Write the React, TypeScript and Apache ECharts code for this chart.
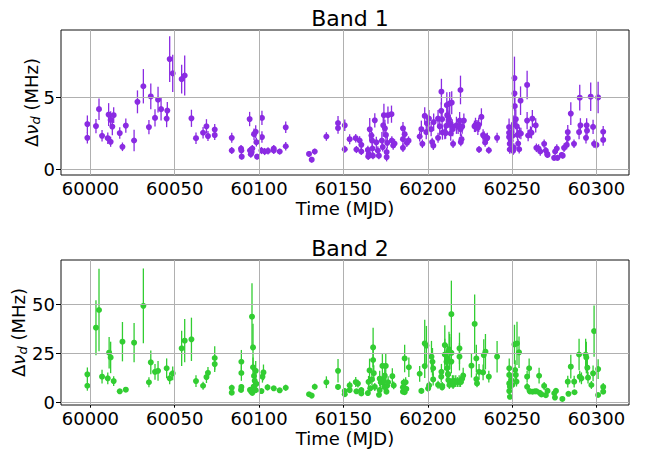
import React, { useEffect, useRef } from "react";
import * as echarts from "echarts";

// ---- Band 1 scintillation bandwidth (MHz) ----
const band1Mjd = [
  59998.2, 59998.2, 60003.3, 60005.1, 60006.9, 60010.3, 60010.8, 60012.0, 60012.0, 60013.0,
  60013.8, 60017.4, 60019.0, 60021.0, 60025.9, 60027.9, 60031.4, 60034.7, 60035.8, 60038.3,
  60040.1, 60041.9, 60045.2, 60045.6, 60047.0, 60048.8, 60054.1, 60055.9, 60059.9, 60062.6,
  60066.8, 60068.8, 60069.7, 60073.7, 60073.7, 60083.8, 60083.8, 60089.3, 60089.5, 60089.7,
  60094.4, 60094.6, 60095.1, 60095.6, 60096.0, 60097.0, 60098.0, 60098.4, 60098.8, 60101.7,
  60101.7, 60101.4, 60103.3, 60105.3, 60108.7, 60108.7, 60112.2, 60115.8, 60115.8, 60129.6,
  60131.2, 60133.0, 60139.9, 60146.8, 60146.8, 60150.8, 60150.8, 60153.7, 60157.3, 60157.7,
  60159.6, 60160.6, 60160.6, 60164.5, 60164.7, 60165.0, 60165.6, 60166.6, 60167.0, 60167.2,
  60167.5, 60168.6, 60169.5, 60170.4, 60171.0, 60172.8, 60173.3, 60173.6, 60174.0, 60174.6,
  60175.2, 60175.6, 60175.6, 60176.0, 60176.4, 60178.5, 60178.7, 60179.5, 60180.3, 60185.3,
  60185.3, 60185.3, 60186.3, 60187.6, 60188.6, 60195.2, 60196.2, 60196.8, 60198.2, 60199.1,
  60199.6, 60200.7, 60202.0, 60202.6, 60203.3, 60203.5, 60206.1, 60206.1, 60207.1, 60208.1,
  60208.7, 60208.0, 60208.5, 60210.1, 60210.6, 60211.0, 60211.3, 60211.5, 60212.0, 60212.6,
  60213.0, 60213.2, 60213.6, 60214.2, 60214.5, 60214.8, 60215.0, 60217.0, 60218.0, 60218.9,
  60219.4, 60219.6, 60220.0, 60219.4, 60220.4, 60221.4, 60227.7, 60228.3, 60229.1, 60229.7,
  60230.2, 60230.4, 60231.8, 60232.8, 60233.4, 60234.0, 60234.9, 60235.3, 60236.2, 60241.1,
  60248.2, 60248.2, 60248.2, 60248.6, 60248.6, 60249.2, 60249.6, 60250.2, 60250.6, 60251.0,
  60251.0, 60251.4, 60251.4, 60251.6, 60252.2, 60252.8, 60253.2, 60253.6, 60254.2, 60254.4,
  60255.0, 60255.2, 60258.9, 60258.9, 60259.5, 60260.9, 60261.5, 60262.0, 60264.0, 60264.4,
  60265.7, 60266.7, 60269.0, 60270.0, 60270.8, 60271.0, 60274.9, 60275.5, 60276.5, 60276.9,
  60279.4, 60280.0, 60280.8, 60282.4, 60283.0, 60283.0, 60284.8, 60286.7, 60289.7, 60290.1,
  60290.5, 60293.8, 60294.2, 60294.4, 60296.6, 60298.0, 60298.6, 60300.0, 60301.0, 60304.0,
  60304.0,
];
const band1Dnu = [
  3.16, 2.2, 3.02, 4.2, 2.34, 2.17, 3.82, 3.45, 1.92, 2.98,
  3.78, 2.53, 1.57, 3.05, 2.01, 4.71, 5.8, 2.95, 5.09, 3.59,
  4.86, 4.2, 3.54, 4.1, 7.7, 6.7, 6.3, 6.55, 3.56, 2.17,
  2.55, 3.0, 2.32, 2.77, 2.39, 2.2, 1.31, 1.45, 1.31, 0.88,
  3.51, 1.31, 1.05, 1.2, 1.45, 2.45, 2.62, 1.89, 0.88, 3.59,
  2.25, 1.31, 1.24, 1.28, 1.31, 1.45, 1.24, 2.93, 1.61, 1.07,
  0.67, 1.24, 2.29, 3.23, 2.88, 3.07, 1.4, 2.1, 2.17, 1.38,
  2.01, 1.71, 1.24, 1.35, 0.9, 1.07, 2.79, 2.36, 2.0, 1.45,
  0.95, 3.42, 1.88, 1.31, 0.95, 2.01, 1.55, 3.07, 3.78, 2.86,
  2.4, 0.85, 1.2, 1.85, 3.78, 3.85, 2.01, 1.66, 1.8, 2.86,
  2.1, 1.5, 2.45, 1.85, 2.0, 2.29, 2.8, 1.78, 3.73, 2.6,
  3.2, 3.54, 2.8, 1.9, 1.65, 3.3, 3.54, 2.2, 3.0, 5.42,
  2.57, 4.08, 3.5, 2.6, 2.53, 3.04, 4.48, 3.78, 3.7, 3.5,
  4.6, 3.2, 2.5, 4.65, 3.0, 2.8, 1.78, 3.07, 2.97, 3.4,
  2.8, 1.9, 2.1, 5.54, 2.98, 3.4, 3.0, 3.1, 3.05, 2.9,
  3.1, 1.38, 3.66, 2.39, 2.3, 1.87, 2.15, 2.2, 1.33, 2.2,
  2.95, 2.55, 2.25, 1.78, 1.38, 1.99, 2.57, 2.34, 1.29, 1.52,
  3.16, 6.37, 5.3, 4.41, 3.5, 3.0, 2.4, 1.8, 1.4, 2.55,
  4.79, 2.5, 5.89, 3.4, 2.36, 2.6, 2.55, 3.54, 3.07, 1.5,
  1.45, 1.24, 1.78, 1.31, 1.07, 1.0, 0.8, 1.24, 1.45, 0.8,
  1.0, 0.95, 1.5, 1.7, 2.17, 2.6, 3.89, 1.78, 2.6, 5.0,
  3.07, 2.2, 3.07, 2.7, 5.07, 2.96, 1.78, 1.7, 5.02, 2.62,
  2.05,
];
const band1Err = [
  0.6, 0.4, 0.5, 0.75, 0.4, 0.4, 0.8, 0.6, 0.35, 0.6,
  0.55, 0.4, 0.3, 0.5, 0.75, 0.8, 1.2, 0.5, 0.9, 0.6,
  0.9, 0.8, 0.6, 0.6, 1.6, 1.3, 1.0, 1.4, 0.6, 0.4,
  0.4, 0.5, 0.35, 0.4, 0.35, 0.35, 0.25, 0.25, 0.3, 0.2,
  0.5, 0.25, 0.25, 0.25, 0.25, 0.4, 0.45, 0.3, 0.2, 0.5,
  0.4, 0.25, 0.25, 0.25, 0.25, 0.25, 0.2, 0.4, 0.3, 0.2,
  0.2, 0.2, 0.3, 0.5, 0.4, 0.4, 0.25, 0.35, 0.3, 0.25,
  0.3, 0.3, 0.25, 0.3, 0.25, 0.3, 0.8, 0.5, 0.6, 0.3,
  0.25, 0.5, 0.4, 0.3, 0.25, 0.6, 0.3, 0.8, 0.8, 0.6,
  0.6, 0.3, 0.3, 0.4, 0.6, 0.6, 0.3, 0.3, 0.3, 0.45,
  0.4, 0.3, 0.4, 0.3, 0.3, 0.35, 0.6, 0.3, 0.6, 0.5,
  0.6, 0.6, 0.5, 0.3, 0.3, 0.6, 0.6, 0.35, 0.6, 0.9,
  0.5, 0.6, 0.5, 0.5, 0.4, 0.5, 0.9, 0.7, 0.6, 0.6,
  0.8, 0.6, 0.5, 0.8, 0.5, 0.5, 0.3, 0.6, 0.5, 0.6,
  0.5, 0.3, 0.35, 1.0, 0.5, 0.5, 0.4, 0.5, 0.4, 0.5,
  0.5, 0.25, 0.6, 0.4, 0.35, 0.3, 0.35, 0.35, 0.25, 0.35,
  0.6, 0.5, 0.4, 0.3, 0.3, 0.4, 0.5, 0.4, 0.3, 0.3,
  0.6, 1.5, 1.2, 0.9, 0.7, 0.6, 0.4, 0.3, 0.3, 0.4,
  1.0, 0.4, 1.0, 0.6, 0.4, 0.4, 0.4, 0.6, 0.5, 0.3,
  0.3, 0.3, 0.3, 0.25, 0.25, 0.2, 0.2, 0.25, 0.3, 0.2,
  0.2, 0.2, 0.3, 0.3, 0.4, 0.5, 0.8, 0.3, 0.5, 0.9,
  0.5, 0.4, 0.5, 0.5, 1.0, 0.5, 0.3, 0.3, 1.1, 0.4,
  0.4,
];

// ---- Band 2 scintillation bandwidth (MHz) ----
const band2Mjd = [
  59998.2, 59998.2, 60003.3, 60005.1, 60006.9, 60010.3, 60011.1, 60012.0, 60013.8, 60017.4,
  60019.0, 60021.0, 60025.9, 60031.4, 60034.7, 60035.8, 60038.3, 60040.1, 60045.2, 60047.0,
  60048.8, 60054.1, 60055.9, 60059.9, 60062.6, 60066.8, 60068.8, 60069.7, 60073.7, 60073.7,
  60083.8, 60083.8, 60089.3, 60089.5, 60089.5, 60089.5, 60094.6, 60095.4, 60096.0, 60095.8,
  60096.4, 60096.4, 60097.0, 60097.4, 60098.0, 60098.4, 60098.0, 60096.8, 60101.4, 60102.0,
  60102.6, 60105.0, 60108.7, 60112.2, 60115.8, 60129.6, 60131.2, 60133.0, 60139.9, 60146.8,
  60146.8, 60150.8, 60150.8, 60153.7, 60153.7, 60157.3, 60157.7, 60158.6, 60160.6, 60160.6,
  60164.5, 60164.9, 60165.5, 60165.9, 60166.9, 60167.6, 60167.6, 60168.0, 60168.6, 60171.1,
  60171.5, 60171.5, 60172.1, 60173.1, 60173.5, 60173.9, 60174.3, 60174.5, 60175.1, 60175.5,
  60175.9, 60176.5, 60179.0, 60179.8, 60185.3, 60185.3, 60185.7, 60186.3, 60186.3, 60186.9,
  60187.3, 60188.8, 60195.2, 60196.2, 60198.2, 60198.2, 60199.2, 60200.2, 60200.8, 60202.2,
  60202.8, 60203.2, 60203.2, 60206.1, 60208.1, 60208.5, 60210.1, 60210.1, 60211.1, 60211.5,
  60212.1, 60213.0, 60208.0, 60208.6, 60211.7, 60212.6, 60212.0, 60212.2, 60212.8, 60214.0,
  60214.0, 60214.0, 60214.6, 60215.0, 60215.4, 60216.6, 60217.6, 60218.6, 60218.8, 60218.8,
  60219.4, 60220.4, 60221.0, 60225.9, 60227.8, 60228.8, 60228.8, 60229.2, 60230.4, 60232.8,
  60233.2, 60234.2, 60236.2, 60241.1, 60248.3, 60248.3, 60248.3, 60248.3, 60248.7, 60248.7,
  60249.5, 60250.1, 60251.4, 60251.8, 60252.2, 60252.6, 60252.9, 60254.1, 60258.9, 60258.9,
  60260.1, 60260.5, 60262.1, 60263.5, 60264.5, 60266.0, 60266.4, 60267.4, 60269.0, 60270.0,
  60271.0, 60275.0, 60275.4, 60276.0, 60279.8, 60283.0, 60283.4, 60284.8, 60286.8, 60287.0,
  60289.7, 60290.1, 60291.1, 60293.6, 60294.0, 60294.6, 60295.0, 60297.0, 60298.0, 60298.6,
  60301.0, 60301.0, 60304.0, 60304.0,
];
const band2Dnu = [
  14.4, 8.6, 38.1, 47.1, 13.2, 12.4, 25.4, 23, 11, 5.8,
  31, 6.6, 30.5, 49.2, 10.4, 20.5, 15.7, 16.2, 17.5, 12.4,
  14.9, 27.6, 31.5, 32.2, 11, 8.6, 13, 15.2, 22.7, 19.6,
  7.6, 5.1, 6.5, 8.0, 20.8, 15.1, 6.5, 5.6, 5.0, 43.7,
  28.1, 18, 13.6, 11.1, 16.2, 9.6, 6.4, 8.2, 5.9, 13.2,
  15.4, 7.8, 7.3, 6.3, 7.6, 4.3, 3.6, 8.1, 10.4, 16.2,
  8.0, 5.9, 4.3, 6.4, 8.8, 10.5, 5.8, 9.7, 6.4, 4.7,
  4.9, 10.6, 16.4, 7.3, 11.8, 21.7, 28.1, 15, 8, 4,
  6.4, 12.2, 10.4, 18.7, 10.4, 12, 8, 13.8, 18.7, 5.6,
  8.6, 10.4, 13.5, 8.8, 5.6, 7.8, 10.2, 5.3, 22.5, 10.4,
  7.0, 18, 14.7, 6.0, 30.1, 18.6, 29, 7.2, 8.8, 23.4,
  20.8, 17.5, 11.8, 9.1, 15.7, 7.8, 29.3, 24.5, 20.8, 17.5,
  14.5, 25.9, 13.2, 8.5, 22.7, 27.1, 14.4, 11.5, 9, 45,
  25.3, 20.9, 11, 9, 11, 11, 10.5, 11, 27.6, 23.4,
  10.5, 12.2, 13.8, 18.8, 40, 22.5, 12, 9.8, 15.7, 15.4,
  24.2, 25.9, 13.2, 23.4, 17.5, 14.1, 9.8, 5.9, 3.0, 8.1,
  11.5, 9, 29.6, 16.6, 14.1, 10.7, 30.1, 25.6, 13.2, 8.1,
  17.5, 5.8, 5.6, 5.8, 5.8, 13.7, 5.0, 4.2, 8.5, 3.8,
  6, 4.8, 2.6, 6, 1.9, 10.7, 4.5, 18.3, 10.7, 5.3,
  24.5, 13.2, 12.4, 24.5, 23, 17.8, 12.7, 9, 14.9, 36.4,
  17.1, 3.9, 8.0, 5.6,
];
const band2Err = [
  3.5, 2.5, 14, 21, 3.5, 3, 8, 8, 2.5, 1.2,
  10, 1.2, 10, 19, 2.5, 6, 4, 5, 5, 3,
  3.5, 9, 11, 11, 3, 2, 3, 3, 6, 4,
  1.5, 1.2, 1.2, 1.5, 6, 4, 1.5, 1.2, 1.0, 17,
  12, 5, 4, 3, 5, 2, 1.5, 2, 1.2, 3,
  4, 1.5, 1.2, 1.2, 1.5, 0.8, 0.8, 1.5, 3, 6,
  1.5, 1.5, 1, 1.5, 2, 2.5, 1.2, 2, 1.5, 1,
  1.2, 3, 6, 1.5, 3, 7, 10, 4, 2, 1,
  1.5, 4, 3, 6, 3, 3, 2, 4, 6, 1.2,
  2, 3, 4, 2, 1.2, 1.5, 2, 1, 7, 2.5,
  1.5, 5, 4, 1.2, 12, 6, 10, 1.5, 2, 8,
  7, 5, 3, 2, 4, 1.5, 10, 8, 6, 5,
  4, 9, 3, 2, 7, 9, 3, 2.5, 2, 17,
  8, 6, 3, 2, 3, 3, 2.5, 3, 8, 7,
  2.5, 3, 4, 6, 15, 7, 3, 2, 4, 4,
  8, 9, 3, 8, 5, 4, 2.5, 1.5, 1, 2,
  3, 2, 10, 5, 3, 2.5, 11, 8, 3, 2,
  5, 1.5, 1.2, 1.2, 1.2, 4, 1.2, 1, 2, 1,
  1.5, 1, 0.8, 1.5, 0.6, 3, 1, 6, 3, 1.2,
  8, 3, 3, 8, 8, 5, 3, 2, 4, 13,
  5, 1, 2, 1.2,
];

// ---- Axis ticks ----
const mjdTicks = [60000, 60050, 60100, 60150, 60200, 60250, 60300];
const band1Ticks = [0, 5];
const band2Ticks = [0, 25, 50];

const FONT = "DejaVu Sans";
const PURPLE = "#8a2be2";
const GREEN = "#32cd32";
const GRID_COLOR = "#b0b0b0";

const MJD_MIN = 59982.57;
const MJD_MAX = 60319.3;

function zip3(a: number[], b: number[], c: number[]) {
  return a.map((v, i) => [v, b[i], c[i]]);
}

function errorBarSeries(data: number[][], idx: number, color: string) {
  return {
    type: "custom",
    xAxisIndex: idx,
    yAxisIndex: idx,
    z: 3,
    silent: true,
    encode: { x: 0, y: 1 },
    data,
    renderItem: (_params: any, api: any) => {
      const x = api.value(0);
      const y = api.value(1);
      const e = api.value(2);
      const lo = api.coord([x, y - e]);
      const hi = api.coord([x, y + e]);
      return {
        type: "line",
        shape: { x1: lo[0], y1: lo[1], x2: hi[0], y2: hi[1] },
        style: { stroke: color, lineWidth: 1.3 },
      };
    },
  };
}

function gridLineSeries(idx: number, yTicks: number[]) {
  return {
    type: "scatter",
    xAxisIndex: idx,
    yAxisIndex: idx,
    data: [],
    z: 1,
    silent: true,
    markLine: {
      silent: true,
      symbol: ["none", "none"],
      label: { show: false },
      lineStyle: { color: GRID_COLOR, width: 1, type: "solid" },
      data: [
        ...mjdTicks.map((v) => ({ xAxis: v })),
        ...yTicks.map((v) => ({ yAxis: v })),
      ],
    },
  };
}

const Y_NAME = "{a|Δ}{i|ν}{s|d}{a| (MHz)}";

const yNameRich = {
  a: { fontFamily: FONT, fontSize: 18, color: "#000" },
  i: { fontFamily: FONT, fontSize: 18, fontStyle: "italic", color: "#000" },
  s: { fontFamily: FONT, fontSize: 13, fontStyle: "italic", color: "#000", padding: [9, 0, 0, 0] },
};

function makeXAxis(idx: number) {
  return {
    type: "value",
    gridIndex: idx,
    min: MJD_MIN,
    max: MJD_MAX,
    name: "Time (MJD)",
    nameLocation: "middle",
    nameGap: 24,
    nameMoveOverlap: false,
    nameTextStyle: { fontFamily: FONT, fontSize: 18, color: "#000" },
    axisLine: { show: false },
    splitLine: { show: false },
    axisTick: {
      show: true,
      length: 5,
      customValues: mjdTicks,
      lineStyle: { color: "#000", width: 1 },
    },
    axisLabel: {
      customValues: mjdTicks,
      fontFamily: FONT,
      fontSize: 18,
      color: "#000",
      margin: 4,
      formatter: (v: number) => String(Math.round(v)),
    },
  };
}

function makeYAxis(idx: number, min: number, max: number, ticks: number[], nameGap: number) {
  return {
    type: "value",
    gridIndex: idx,
    min,
    max,
    name: Y_NAME,
    nameLocation: "middle",
    nameRotate: 90,
    nameGap,
    nameMoveOverlap: false,
    nameTextStyle: { rich: yNameRich },
    axisLine: { show: false },
    splitLine: { show: false },
    axisTick: {
      show: true,
      length: 5,
      customValues: ticks,
      lineStyle: { color: "#000", width: 1 },
    },
    axisLabel: {
      customValues: ticks,
      fontFamily: FONT,
      fontSize: 18,
      color: "#000",
      margin: 6,
    },
  };
}

export default function App() {
  const ref = useRef<HTMLDivElement>(null);

  useEffect(() => {
    if (!ref.current) return;
    const chart = echarts.init(ref.current, null, { renderer: "svg" });

    const b1 = zip3(band1Mjd, band1Dnu, band1Err);
    const b2 = zip3(band2Mjd, band2Dnu, band2Err);

    chart.setOption({
      animation: false,
      backgroundColor: "#fff",
      title: [
        {
          text: "Band 1",
          left: 345,
          top: 2,
          textAlign: "center",
          textStyle: { fontFamily: FONT, fontSize: 22, fontWeight: "normal", color: "#000" },
        },
        {
          text: "Band 2",
          left: 345,
          top: 232,
          textAlign: "center",
          textStyle: { fontFamily: FONT, fontSize: 22, fontWeight: "normal", color: "#000" },
        },
      ],
      grid: [
        { left: 61, top: 30, width: 568, height: 145, show: true, borderColor: "#111", borderWidth: 1, backgroundColor: "transparent" },
        { left: 61, top: 260, width: 568, height: 145, show: true, borderColor: "#111", borderWidth: 1, backgroundColor: "transparent" },
      ],
      xAxis: [makeXAxis(0), makeXAxis(1)],
      yAxis: [
        makeYAxis(0, -0.4, 9.73, band1Ticks, 19),
        makeYAxis(1, -1.17, 72.5, band2Ticks, 32),
      ],
      series: [
        gridLineSeries(0, band1Ticks),
        gridLineSeries(1, band2Ticks),
        errorBarSeries(b1, 0, PURPLE),
        errorBarSeries(b2, 1, GREEN),
        {
          type: "scatter",
          xAxisIndex: 0,
          yAxisIndex: 0,
          z: 4,
          silent: true,
          symbol: "circle",
          symbolSize: 6,
          itemStyle: { color: PURPLE, opacity: 1 },
          data: b1.map((d) => [d[0], d[1]]),
        },
        {
          type: "scatter",
          xAxisIndex: 1,
          yAxisIndex: 1,
          z: 4,
          silent: true,
          symbol: "circle",
          symbolSize: 6,
          itemStyle: { color: GREEN, opacity: 1 },
          data: b2.map((d) => [d[0], d[1]]),
        },
      ],
    });

    return () => chart.dispose();
  }, []);

  return (
    <div
      ref={ref}
      style={{ position: "fixed", left: 0, top: 0, width: 649, height: 451, background: "#fff" }}
    />
  );
}
